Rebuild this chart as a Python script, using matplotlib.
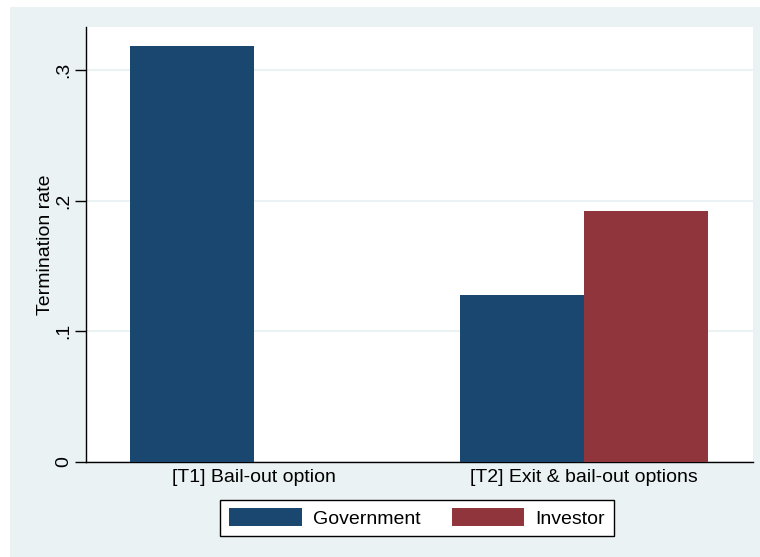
import matplotlib
matplotlib.use("Agg")
import matplotlib.pyplot as plt
from matplotlib.patches import Rectangle
import numpy as np

plt.rcParams['font.family'] = ['Liberation Sans', 'DejaVu Sans']

groups = ["[T1] Bail-out option", "[T2] Exit & bail-out options"]
series = ["Government", "Investor"]
government = [0.318, 0.128]
investor = [None, 0.192]
yticks = [0, 0.1, 0.2, 0.3]
ytick_labels = ["0", ".1", ".2", ".3"]

navy = "#1A476F"
maroon = "#90353B"
bg = "#EAF2F3"
fs = 14

fig = plt.figure(figsize=(7.6, 5.57), dpi=100)
fig.patch.set_facecolor("white")
# stata-style graph region
fig.patches.append(Rectangle((10 / 760, 0), 1 - 10 / 760, 1 - 7 / 557,
                             transform=fig.transFigure, facecolor=bg,
                             edgecolor="none", zorder=-10))

ax = fig.add_axes([86 / 760, 1 - 462 / 557, (753 - 86) / 760, (462 - 27) / 557])
ax.set_facecolor("white")

x = np.arange(len(groups))
w = 0.377
ax.bar(x - w / 2, government, width=w, color=navy, label=series[0], zorder=3)
inv_x = [xi + w / 2 for xi, v in zip(x, investor) if v is not None]
inv_v = [v for v in investor if v is not None]
ax.bar(inv_x, inv_v, width=w, color=maroon, label=series[1], zorder=3)

ax.set_xlim(-0.509, 1.512)
ax.set_ylim(0, 0.3329)
ax.set_yticks(yticks)
ax.set_yticklabels(ytick_labels, rotation=90, va="center", fontsize=fs)
ax.set_xticks(x)
ax.set_xticklabels(groups, fontsize=fs)
ax.tick_params(axis="x", length=0, pad=5)
ax.tick_params(axis="y", length=8, width=1, pad=2)
ax.yaxis.grid(True, color=bg, linewidth=1.5, zorder=0)
ax.set_axisbelow(True)
for s in ["top", "right"]:
    ax.spines[s].set_visible(False)
for s in ["left", "bottom"]:
    ax.spines[s].set_linewidth(1)
    ax.spines[s].set_color("black")
ax.set_ylabel("Termination rate", fontsize=fs, labelpad=1)

leg = fig.legend(loc="center", bbox_to_anchor=(417 / 760, 1 - 518 / 557),
                 ncol=2, fontsize=fs, frameon=True, fancybox=False,
                 handlelength=3.75, handleheight=1.0, handletextpad=0.55,
                 columnspacing=1.6, borderpad=0.45)
leg.get_frame().set_edgecolor("black")
leg.get_frame().set_linewidth(1)
leg.get_frame().set_facecolor("white")
leg.get_frame().set_alpha(1)

fig.savefig("out.png", dpi=100, facecolor=fig.get_facecolor())
